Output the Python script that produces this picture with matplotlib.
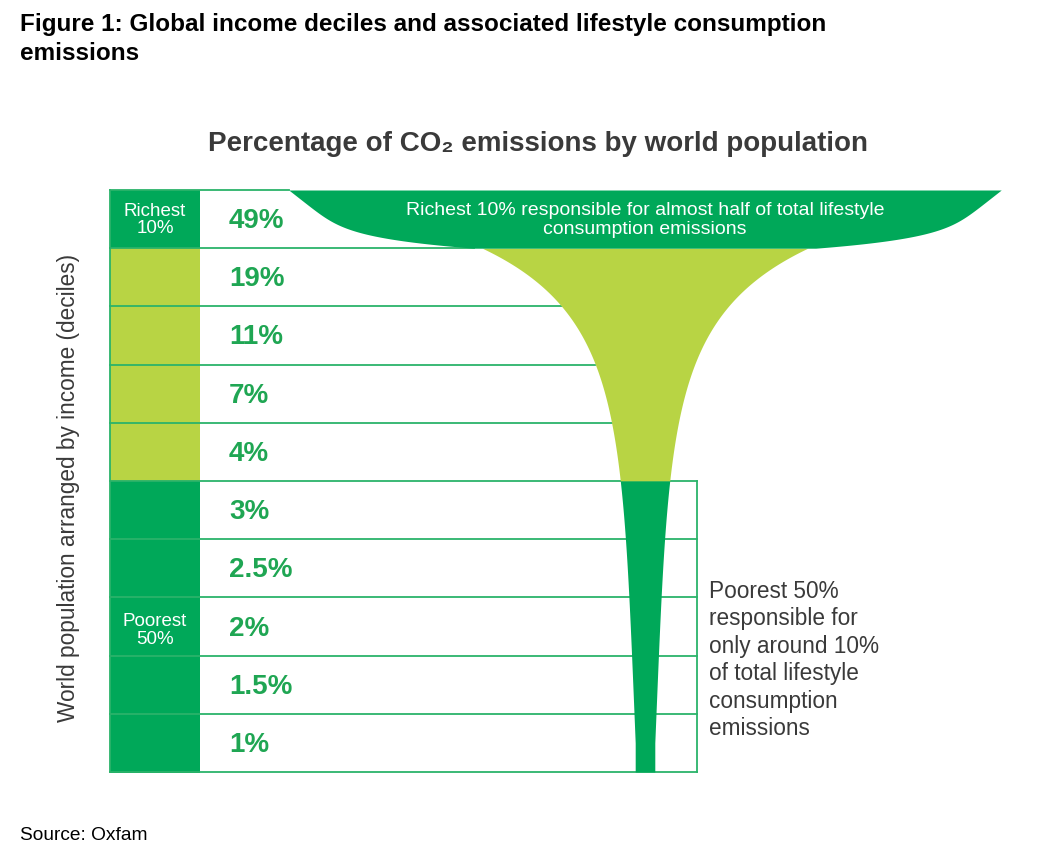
import numpy as np
import matplotlib.pyplot as plt
from matplotlib.patches import Rectangle

plt.rcParams['font.family'] = ['Liberation Sans', 'DejaVu Sans']

# share of lifestyle consumption emissions per income decile, richest first
shares = [49, 19, 11, 7, 4, 3, 2.5, 2, 1.5, 1]
share_labels = ['49%', '19%', '11%', '7%', '4%', '3%', '2.5%', '2%', '1.5%', '1%']
row_groups = ['richest', 'middle', 'middle', 'middle', 'middle',
              'poorest', 'poorest', 'poorest', 'poorest', 'poorest']

DARK = '#00a859'
LIGHT = '#b8d444'
LINE = '#2bb36a'
TXT = '#1fa653'
GREY = '#3a3a3a'

# layout in pixels
X0, X1 = 110, 200
TOP, ROW_H = 190, 58.2
CX = 645
RECT_R = 697

fig = plt.figure(figsize=(10.57, 8.52), dpi=100)
ax = fig.add_axes([0, 0, 1, 1])
ax.set_xlim(0, 1057)
ax.set_ylim(852, 0)
ax.axis('off')

n = len(shares)
bounds = TOP + np.arange(n + 1) * ROW_H
centers = (bounds[:-1] + bounds[1:]) / 2

# --- funnel: width at each row centre follows the share of that decile
node_hw = 5.6 * np.array(shares[1:]) + 4
coef = np.polyfit(centers[1:], np.log(node_hw), 3)


def half_width(y):
    y = np.minimum(y, centers[-1])
    return np.exp(np.polyval(coef, y))


y_mid = np.linspace(bounds[1], bounds[5], 200)
y_low = np.linspace(bounds[5], bounds[10], 200)
ax.fill_betweenx(y_mid, CX - half_width(y_mid), CX + half_width(y_mid),
                 color=LIGHT, lw=0, zorder=3)
ax.fill_betweenx(y_low, CX - half_width(y_low), CX + half_width(y_low),
                 color=DARK, lw=0, zorder=3)

# cap for the richest decile
hw_top = 7.27 * shares[0]
hw_bot = half_width(bounds[1]) + 8
y_cap = np.linspace(bounds[0], bounds[1], 150)
t = (y_cap - bounds[0]) / (bounds[1] - bounds[0])
hw_cap = hw_bot + (hw_top - hw_bot) * (1 - 0.4 * t - 0.6 * t ** 6)
ax.fill_betweenx(y_cap, CX - hw_cap, CX + hw_cap, color=DARK, lw=0, zorder=4)

# --- left colour column
for i, g in enumerate(row_groups):
    col = LIGHT if g == 'middle' else DARK
    ax.add_patch(Rectangle((X0, bounds[i]), X1 - X0, ROW_H + 0.6,
                           facecolor=col, lw=0, zorder=1))

# --- row lines
for i, y in enumerate(bounds):
    if i == 0:
        x_end = CX - hw_top
    elif i == 1:
        x_end = CX - hw_bot
    elif i >= 5:
        x_end = RECT_R
    else:
        x_end = CX - half_width(y)
    ax.plot([X0, x_end], [y, y], color=LINE, lw=1.3, zorder=2)
ax.plot([X0, X0], [bounds[0], bounds[-1]], color=LINE, lw=1.3, zorder=2)
ax.plot([RECT_R, RECT_R], [bounds[5], bounds[-1]], color=LINE, lw=1.3, zorder=2)

# --- labels
for i, lab in enumerate(share_labels):
    ax.text(229, centers[i] + 2, lab, ha='left', va='center',
            fontsize=20, weight='bold', color=TXT, zorder=5)

ax.text((X0 + X1) / 2, bounds[0] + 30, 'Richest\n10%', ha='center', va='center',
        fontsize=13.5, color='white', linespacing=1.05, zorder=5)
ax.text((X0 + X1) / 2, (bounds[5] + bounds[10]) / 2 + 4, 'Poorest\n50%', ha='center',
        va='center', fontsize=13.5, color='white', linespacing=1.05, zorder=5)

ax.text(CX, 220, 'Richest 10% responsible for almost half of total lifestyle\n'
        'consumption emissions', ha='center', va='center', fontsize=14,
        color='white', linespacing=1.1, zorder=6)

ax.text(709, 660, 'Poorest 50%\nresponsible for\nonly around 10%\nof total lifestyle\n'
        'consumption\nemissions', ha='left', va='center', fontsize=16.3,
        color=GREY, linespacing=1.25)

ax.text(69, 488, 'World population arranged by income (deciles)', rotation=90,
        ha='center', va='center', fontsize=16.3, color=GREY)

ax.text(538, 144, 'Percentage of CO\u2082 emissions by world population', ha='center',
        va='center', fontsize=20, weight='bold', color=GREY)

ax.text(20, 13, 'Figure 1: Global income deciles and associated lifestyle consumption\n'
        'emissions', ha='left', va='top', fontsize=17.5, weight='bold', color='black',
        linespacing=1.32)

ax.text(20, 835, 'Source: Oxfam', ha='left', va='center', fontsize=13.8, color='black')

fig.savefig('out.png', dpi=100)
